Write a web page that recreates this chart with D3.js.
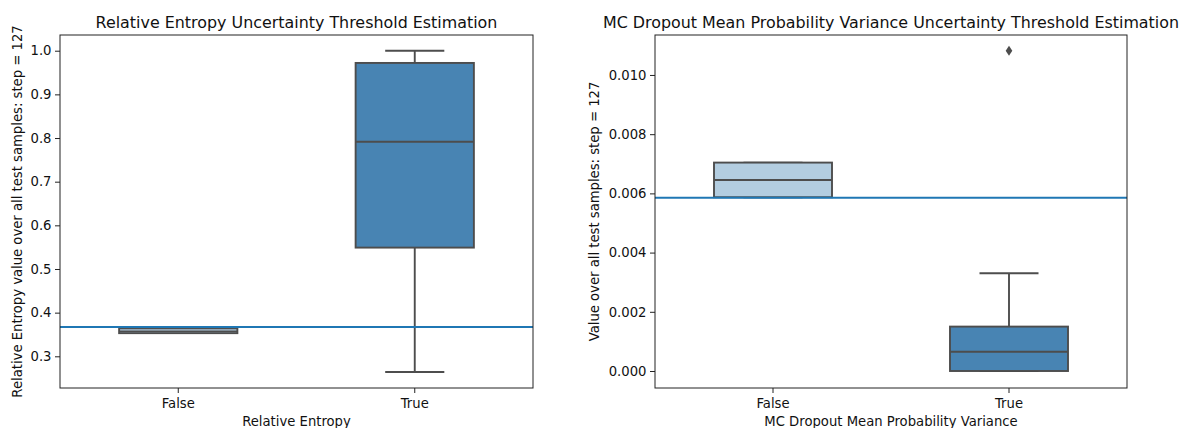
<!DOCTYPE html>
<html>
<head>
<meta charset="utf-8">
<script src="https://cdn.jsdelivr.net/npm/d3@7"></script>
<style>
  html, body { margin: 0; padding: 0; background: #fff; }
  svg { display: block; font-family: "DejaVu Sans", sans-serif; }
</style>
</head>
<body>
<svg id="chart" width="1186" height="428"></svg>
<script>
// Category labels shared by both panels
const categories = ["False", "True"];

// Relative entropy box statistics per category
const entropyLow    = [0.353, 0.264];
const entropyQ1     = [0.353, 0.549];
const entropyMedian = [0.357, 0.7915];
const entropyQ3     = [0.364, 0.972];
const entropyHigh   = [0.364, 1.0];
const entropyOutliers = [[], []];
const entropyThreshold = 0.367;
const entropyTicks = [0.3, 0.4, 0.5, 0.6, 0.7, 0.8, 0.9, 1.0];

// MC dropout mean probability variance box statistics per category
const mcLow    = [0.00587, 0.0];
const mcQ1     = [0.00587, 0.0];
const mcMedian = [0.00645, 0.00065];
const mcQ3     = [0.00704, 0.0015];
const mcHigh   = [0.00704, 0.0033];
const mcOutliers = [[], [0.01082]];
const mcThreshold = 0.005855;
const mcTicks = [0.000, 0.002, 0.004, 0.006, 0.008, 0.010];

const boxColors = ["#b3cde0", "#4884b3"];
const lineGray = "#4d4d4d";
const thresholdColor = "#1f77b4";

const svg = d3.select("#chart");

function drawPanel(cfg) {
  const { left, right, top, bottom } = cfg;
  const g = svg.append("g");

  const x = d3.scaleBand().domain(categories).range([left, right]).paddingInner(0).paddingOuter(0);
  const y = d3.scaleLinear().domain(cfg.yDomain).range([bottom, top]);
  const bw = x.bandwidth();
  const boxW = bw * 0.5;
  const capW = boxW * 0.5;
  const cx = c => x(c) + bw / 2;

  const clip = "clip-" + cfg.id;
  svg.append("clipPath").attr("id", clip)
    .append("rect").attr("x", left).attr("y", top).attr("width", right - left).attr("height", bottom - top);

  const plot = g.append("g").attr("clip-path", `url(#${clip})`);
  const lw = 1.9;

  categories.forEach((c, i) => {
    const xc = cx(c);
    // whiskers
    plot.append("line").attr("x1", xc).attr("x2", xc)
      .attr("y1", y(cfg.q3[i])).attr("y2", y(cfg.high[i]))
      .attr("stroke", lineGray).attr("stroke-width", lw);
    plot.append("line").attr("x1", xc).attr("x2", xc)
      .attr("y1", y(cfg.q1[i])).attr("y2", y(cfg.low[i]))
      .attr("stroke", lineGray).attr("stroke-width", lw);
    // caps
    [cfg.high[i], cfg.low[i]].forEach(v => {
      plot.append("line").attr("x1", xc - capW / 2).attr("x2", xc + capW / 2)
        .attr("y1", y(v)).attr("y2", y(v))
        .attr("stroke", lineGray).attr("stroke-width", lw);
    });
    // box
    plot.append("rect")
      .attr("x", xc - boxW / 2).attr("width", boxW)
      .attr("y", y(cfg.q3[i])).attr("height", Math.max(0, y(cfg.q1[i]) - y(cfg.q3[i])))
      .attr("fill", boxColors[i]).attr("stroke", lineGray).attr("stroke-width", lw);
    // median
    plot.append("line").attr("x1", xc - boxW / 2).attr("x2", xc + boxW / 2)
      .attr("y1", y(cfg.median[i])).attr("y2", y(cfg.median[i]))
      .attr("stroke", lineGray).attr("stroke-width", lw);
    // outliers as diamonds
    cfg.outliers[i].forEach(v => {
      const yy = y(v);
      plot.append("path")
        .attr("d", `M${xc},${yy - 5}L${xc + 3.3},${yy}L${xc},${yy + 5}L${xc - 3.3},${yy}Z`)
        .attr("fill", lineGray);
    });
  });

  // threshold line
  plot.append("line").attr("x1", left).attr("x2", right)
    .attr("y1", y(cfg.threshold)).attr("y2", y(cfg.threshold))
    .attr("stroke", thresholdColor).attr("stroke-width", 2);

  // axes
  const yAxis = d3.axisLeft(y).tickValues(cfg.ticks).tickFormat(d3.format(cfg.fmt)).tickSize(5).tickPadding(3.5);
  const ya = g.append("g").attr("transform", `translate(${left},0)`).call(yAxis);
  const xAxis = d3.axisBottom(x).tickSize(5).tickPadding(5.5);
  const xa = g.append("g").attr("transform", `translate(0,${bottom})`).call(xAxis);
  [ya, xa].forEach(a => {
    a.select(".domain").remove();
    a.selectAll(".tick line").attr("stroke", "#222").attr("stroke-width", 1);
    a.selectAll(".tick text").attr("fill", "#111").style("font-size", "13.2px").style("font-family", "DejaVu Sans");
  });

  // frame
  g.append("rect").attr("x", left).attr("y", top).attr("width", right - left).attr("height", bottom - top)
    .attr("fill", "none").attr("stroke", "#222").attr("stroke-width", 1);

  // title
  g.append("text").attr("x", (left + right) / 2).attr("y", top - 7)
    .attr("text-anchor", "middle").attr("fill", "#111").style("font-size", "15.9px").text(cfg.title);
  // x label
  g.append("text").attr("x", (left + right) / 2).attr("y", bottom + 38)
    .attr("text-anchor", "middle").attr("fill", "#111").style("font-size", "13.2px").text(cfg.xLabel);
  // y label
  g.append("text").attr("transform", `translate(${cfg.yLabelX},${(top + bottom) / 2}) rotate(-90)`)
    .attr("text-anchor", "middle").attr("fill", "#111").style("font-size", "13.2px").text(cfg.yLabel);
}

drawPanel({
  id: "entropy", left: 60, right: 533, top: 35, bottom: 388,
  yDomain: [0.2274, 1.036], ticks: entropyTicks, fmt: ".1f",
  low: entropyLow, q1: entropyQ1, median: entropyMedian, q3: entropyQ3, high: entropyHigh,
  outliers: entropyOutliers, threshold: entropyThreshold,
  title: "Relative Entropy Uncertainty Threshold Estimation",
  xLabel: "Relative Entropy",
  yLabel: "Relative Entropy value over all test samples: step = 127",
  yLabelX: 22
});

drawPanel({
  id: "mc", left: 655, right: 1127, top: 35, bottom: 388,
  yDomain: [-0.000574, 0.01135], ticks: mcTicks, fmt: ".3f",
  low: mcLow, q1: mcQ1, median: mcMedian, q3: mcQ3, high: mcHigh,
  outliers: mcOutliers, threshold: mcThreshold,
  title: "MC Dropout Mean Probability Variance Uncertainty Threshold Estimation",
  xLabel: "MC Dropout Mean Probability Variance",
  yLabel: "Value over all test samples: step = 127",
  yLabelX: 599
});
</script>
</body>
</html>
